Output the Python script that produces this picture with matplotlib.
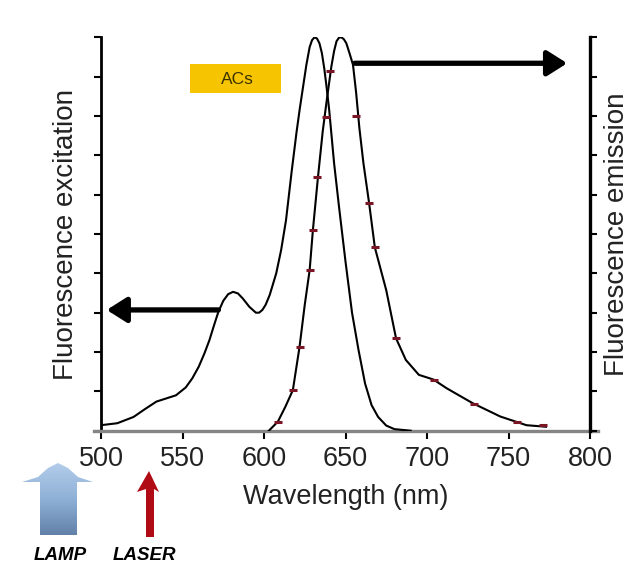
import numpy as np
import matplotlib
matplotlib.use("Agg")
import matplotlib.pyplot as plt
from matplotlib.patches import Polygon, Rectangle
from matplotlib.colors import LinearSegmentedColormap

plt.rcParams['font.family'] = ['Liberation Sans', 'DejaVu Sans']

# ---- data ----
exc_wl = [500, 510, 520, 527, 534, 540, 546, 552, 556, 560, 563.5, 566.5, 569.5, 572,
          575, 578, 581, 584, 587, 591, 595, 597, 599, 601, 603.5, 607.5, 610.5, 613.5,
          617, 620, 622, 624, 626, 628, 629.5, 631, 632.5, 634, 635.5, 637, 638.5, 640,
          643, 646, 650, 654, 658, 662, 666, 670, 675, 680, 690]
exc_val = [0.014, 0.019, 0.035, 0.055, 0.074, 0.082, 0.09, 0.11, 0.133, 0.163, 0.197,
           0.23, 0.27, 0.302, 0.33, 0.347, 0.353, 0.349, 0.336, 0.315, 0.30, 0.30, 0.307,
           0.32, 0.345, 0.40, 0.459, 0.535, 0.66, 0.76, 0.82, 0.875, 0.93, 0.975, 0.993,
           1.0, 0.997, 0.985, 0.96, 0.92, 0.87, 0.815, 0.68, 0.57, 0.43, 0.3, 0.205,
           0.12, 0.065, 0.035, 0.013, 0.004, 0.0]

em_wl = [603, 608.5, 613, 617.7, 621.8, 625, 628, 630, 633, 636, 638.5, 641.3, 643,
         644.5, 646, 647.5, 649, 650.5, 652.5, 654.6, 656.5, 658.5, 661, 664.5, 668,
         675, 681, 687, 695, 704, 712, 728, 745, 761, 773]
em_val = [0.0, 0.023, 0.06, 0.103, 0.213, 0.32, 0.408, 0.51, 0.64, 0.76, 0.84, 0.925,
          0.965, 0.99, 0.999, 1.0, 0.995, 0.985, 0.959, 0.93, 0.86, 0.77, 0.68, 0.578,
          0.466, 0.357, 0.235, 0.18, 0.142, 0.13, 0.108, 0.07, 0.036, 0.014, 0.01]

em_mark_wl = [608.5, 617.7, 621.8, 628, 630, 632.7, 638.2, 640.5, 656.7, 664.5, 668,
              681, 704, 729, 755, 771]
em_mark_val = [0.023, 0.103, 0.213, 0.408, 0.51, 0.646, 0.798, 0.915, 0.80, 0.578,
               0.466, 0.235, 0.13, 0.069, 0.023, 0.014]

x_ticks = [500, 550, 600, 650, 700, 750, 800]
y_ticks = [0.0, 0.1, 0.2, 0.3, 0.4, 0.5, 0.6, 0.7, 0.8, 0.9, 1.0]

W, H = 643, 567
fig = plt.figure(figsize=(W / 100, H / 100), dpi=100)
L, R, T, B = 101, 590, 37.3, 430.7
ax = fig.add_axes([L / W, 1 - B / H, (R - L) / W, (B - T) / H])

ax.plot(exc_wl, exc_val, color='black', lw=1.5, zorder=3)
ax.plot(em_wl, em_val, color='black', lw=1.5, zorder=3)
ax.plot(em_mark_wl, em_mark_val, ls='none', marker='_', ms=6, mew=2.2,
        color='#7a1526', zorder=4)

ax.set_xlim(500, 800)
ax.set_ylim(0, 1)
ax.set_xticks(x_ticks)
ax.set_xticklabels([str(v) for v in x_ticks])
ax.set_yticks(y_ticks)
ax.set_yticklabels([])

ax.spines['top'].set_visible(False)
ax.spines['left'].set_linewidth(2)
ax.spines['right'].set_visible(False)
ax.spines['bottom'].set_color('#858585')
ax.spines['bottom'].set_linewidth(2.4)
ax.spines['bottom'].set_bounds(495.5, 805)

ax.tick_params(axis='x', direction='out', length=6, width=1.5, color='black',
               labelsize=19.5, pad=5, labelcolor='#222222')
ax.tick_params(axis='y', direction='out', length=5, width=1.5)

ax.set_xlabel('Wavelength (nm)', fontsize=19.5, labelpad=9, color='#222222')
ax.set_ylabel('Fluorescence excitation', fontsize=20, labelpad=7.5, color='#222222')

ax2 = ax.twinx()
ax2.set_ylim(0, 1)
ax2.set_yticks(y_ticks)
ax2.set_yticklabels([])
for s in ['top', 'left', 'bottom']:
    ax2.spines[s].set_visible(False)
ax2.spines['right'].set_linewidth(2.4)
ax2.tick_params(axis='y', direction='out', length=5, width=1.5)
ax2.set_ylabel('Fluorescence emission', fontsize=20, labelpad=1.5, color='#222222')

# arrows
ap = dict(arrowstyle='-|>,head_length=0.6,head_width=0.38', lw=3.8, color='black',
          mutation_scale=20, shrinkA=0, shrinkB=0)
ax.annotate('', xy=(503.5, 0.307), xytext=(572, 0.307), arrowprops=ap, zorder=5)
ax.annotate('', xy=(786, 0.934), xytext=(655.7, 0.934), arrowprops=ap, zorder=5)

# ACs box
ax.add_patch(Rectangle((554.5, 0.859), 56, 0.072, facecolor='#f6c400',
                       edgecolor='none', zorder=2))
ax.text(583.5, 0.893, 'ACs', fontsize=12.5, color='#3b3300', ha='center',
        va='center', zorder=3)

# overlay axes in pixel coordinates for the LAMP / LASER glyphs
ov = fig.add_axes([0, 0, 1, 1], zorder=10)
ov.axis('off')
ov.patch.set_alpha(0)

lamp = Polygon([(22, 482), (38, 477), (48, 468), (58, 463), (68, 468), (78, 477),
                (93, 482), (77, 482), (77, 535), (40, 535), (40, 482)],
               closed=True, facecolor='none', edgecolor='none')
ov.add_patch(lamp)
grad = np.linspace(0, 1, 100).reshape(-1, 1)
cmap = LinearSegmentedColormap.from_list('lamp', ['#b3cdeb', '#8fb0d6', '#5f7fa6'])
im = ov.imshow(grad, cmap=cmap, extent=(20, 95, 537, 462), aspect='auto',
               interpolation='bilinear')
im.set_clip_path(lamp)
ov.set_xlim(0, W)
ov.set_ylim(H, 0)

laser = Polygon([(149, 471), (159, 492), (154, 489), (154, 537), (146, 537),
                 (146, 489), (137, 492)], closed=True, facecolor='#b00a14',
                edgecolor='none')
ov.add_patch(laser)

ov.text(60, 556, 'LAMP', fontsize=13.5, fontweight='bold', fontstyle='italic',
        ha='center', va='center')
ov.text(144, 556, 'LASER', fontsize=13.5, fontweight='bold', fontstyle='italic',
        ha='center', va='center')

fig.savefig('out.png', dpi=100)
